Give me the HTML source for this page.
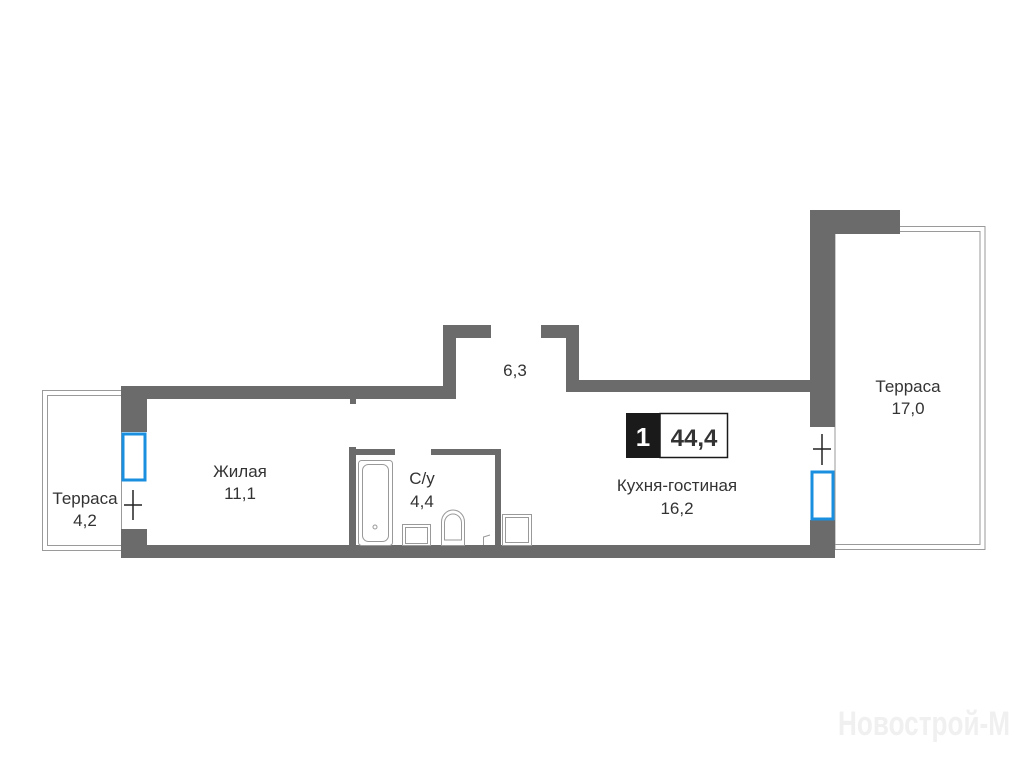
<!DOCTYPE html>
<html><head><meta charset="utf-8"><style>
html,body{margin:0;padding:0;background:#fff;}
svg{display:block}
text{font-family:"Liberation Sans","DejaVu Sans",sans-serif;fill:#333;font-size:17px;text-anchor:middle}
</style></head><body>
<svg width="1024" height="768" viewBox="0 0 1024 768" xmlns="http://www.w3.org/2000/svg">
<rect width="1024" height="768" fill="#fff"/>
<rect x="42.5" y="390.5" width="79" height="160" fill="none" stroke="#9a9a9a" stroke-width="1"/>
<rect x="47.5" y="395.5" width="74" height="150" fill="none" stroke="#9a9a9a" stroke-width="1"/>
<rect x="835" y="226.5" width="150" height="323" fill="none" stroke="#9a9a9a" stroke-width="1"/>
<rect x="835" y="231.5" width="145" height="313" fill="none" stroke="#9a9a9a" stroke-width="1"/>
<g fill="#6b6b6b">
<rect x="121" y="386" width="26" height="46"/>
<rect x="121" y="529" width="26" height="29"/>
<rect x="121" y="386" width="335" height="13"/>
<rect x="350" y="399" width="6" height="5"/>
<rect x="443" y="325" width="13" height="74"/>
<rect x="443" y="325" width="48" height="13"/>
<rect x="541" y="325" width="38" height="13"/>
<rect x="566" y="325" width="13" height="67"/>
<rect x="566" y="380" width="250" height="12"/>
<rect x="810" y="210" width="25" height="217"/>
<rect x="810" y="210" width="90" height="24"/>
<rect x="810" y="520" width="25" height="38"/>
<rect x="121" y="545" width="714" height="13"/>
<rect x="349" y="447" width="7" height="98"/>
<rect x="349" y="449" width="46" height="6"/>
<rect x="431" y="449" width="70" height="6"/>
<rect x="495" y="449" width="6" height="96"/>
</g>
<rect x="123" y="434" width="22" height="46" fill="#fff" stroke="#1a8fe0" stroke-width="3"/>
<rect x="812" y="472" width="21" height="47" fill="#fff" stroke="#1a8fe0" stroke-width="3"/>
<g stroke="#222" stroke-width="1.5">
<line x1="133" y1="490" x2="133" y2="520"/><line x1="124" y1="505" x2="142" y2="505"/>
<line x1="822" y1="434" x2="822" y2="465"/><line x1="813" y1="449" x2="831" y2="449"/>
</g>
<g fill="none" stroke="#999" stroke-width="1">
<rect x="358.5" y="460.5" width="34" height="85" rx="3"/>
<rect x="362.5" y="464.5" width="26" height="77" rx="6"/>
<circle cx="375" cy="527" r="2"/>
<rect x="402.5" y="524.5" width="28" height="21"/>
<rect x="405.5" y="527.5" width="22" height="16"/>
<path d="M441.5 545.5 V522 A11.5 12 0 0 1 464.5 522 V545.5 Z"/>
<path d="M444.5 540 V523 A8.5 9 0 0 1 461.5 523 V540 Z"/>
<path d="M483.5 545 V537 L490 535"/>
<rect x="502.5" y="514.5" width="29" height="31"/>
<rect x="505.5" y="517.5" width="23" height="25"/>
</g>
<rect x="626" y="413" width="34" height="45" fill="#1a1a1a"/>
<rect x="660" y="413.5" width="67.5" height="44" fill="#fff" stroke="#1a1a1a" stroke-width="1.5"/>
<text x="643" y="446" style="fill:#fff;font-size:26px;font-weight:bold">1</text>
<text x="694" y="446" style="font-size:24px;font-weight:bold">44,4</text>
<text x="515" y="376">6,3</text>
<text x="240" y="477">Жилая</text>
<text x="240" y="499">11,1</text>
<text x="422" y="484">С/у</text>
<text x="422" y="507">4,4</text>
<text x="85" y="504">Терраса</text>
<text x="85" y="526">4,2</text>
<text x="677" y="491">Кухня-гостиная</text>
<text x="677" y="514">16,2</text>
<text x="908" y="392">Терраса</text>
<text x="908" y="414">17,0</text>
<text x="838" y="735" textLength="172" lengthAdjust="spacingAndGlyphs" style="text-anchor:start;fill:#f0f0f0;font-size:34px;font-weight:bold">Новострой-М</text>
</svg>
</body></html>
